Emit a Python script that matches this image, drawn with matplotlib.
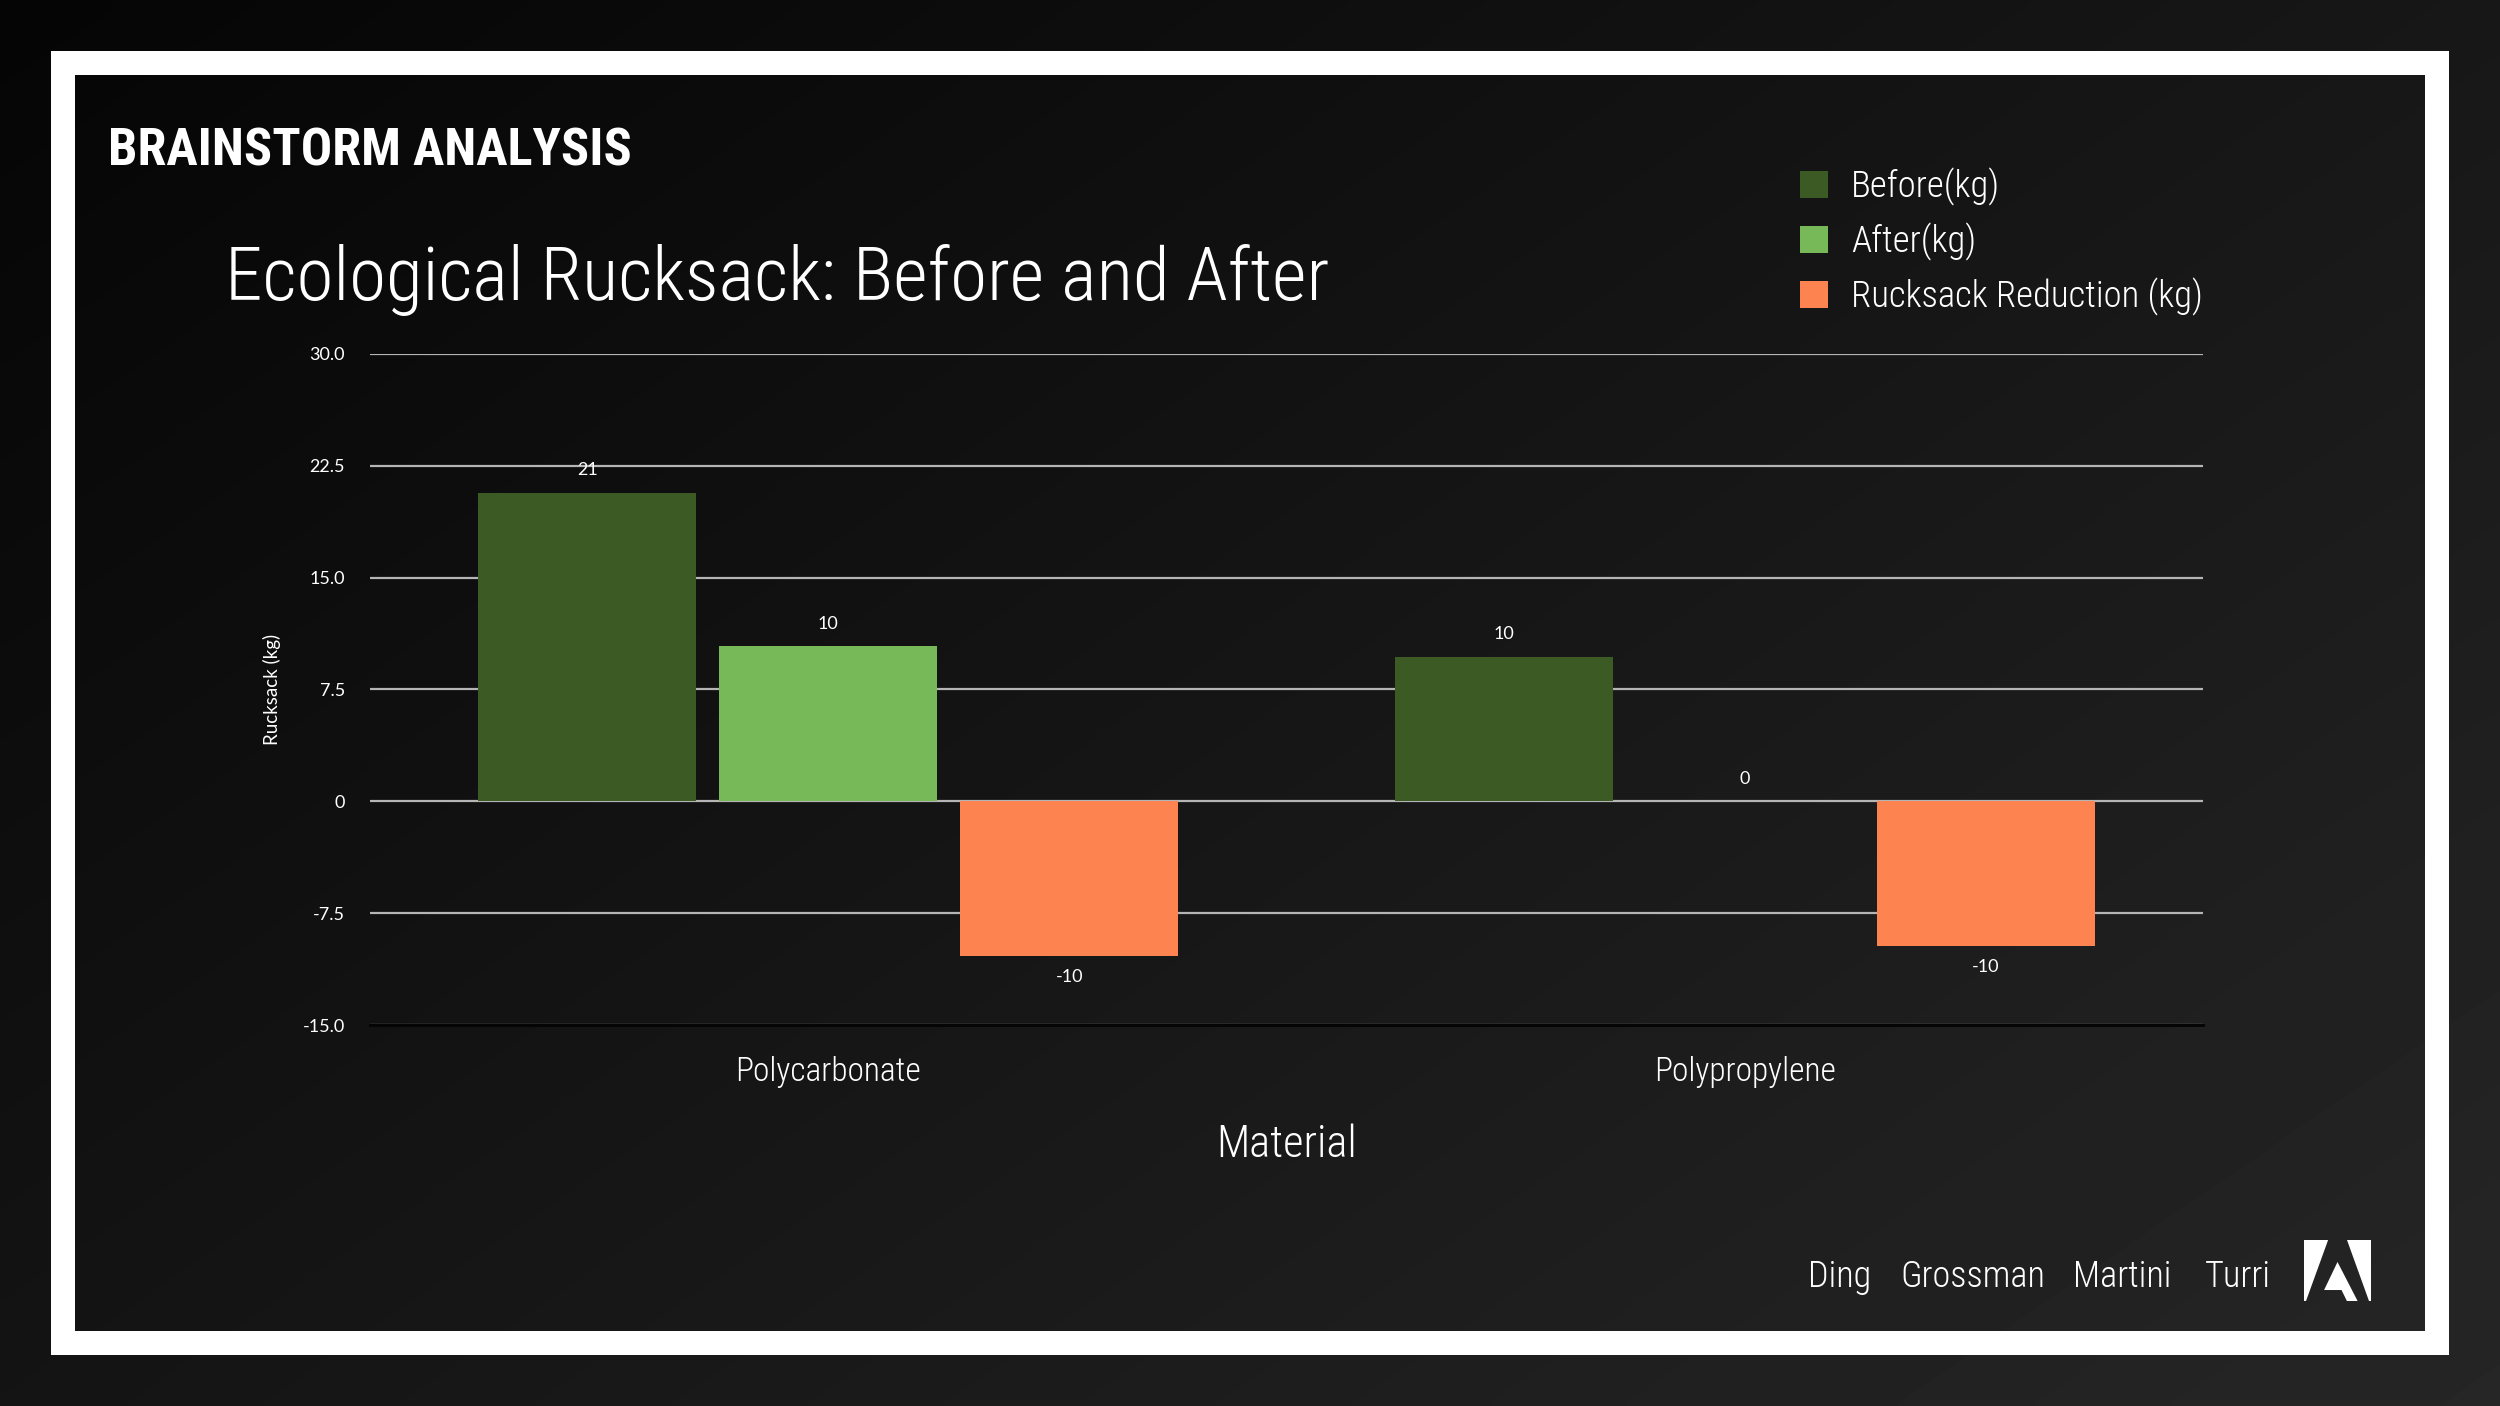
import numpy as np
import matplotlib
matplotlib.use('Agg')
import matplotlib.pyplot as plt
from matplotlib import font_manager as fm
from matplotlib.patches import Rectangle, Polygon

# ---------------- data ----------------
categories = ['Polycarbonate', 'Polypropylene']
series_names = ['Before(kg)', 'After(kg)', 'Rucksack Reduction (kg)']
before = [20.7, 9.7]
after = [10.4, 0.0]
reduction = [-10.4, -9.7]
series_colors = ['#3b5a24', '#77b858', '#fd8451']
ytick_values = [-15, -7.5, 0, 7.5, 15, 22.5, 30]
ytick_labels = ['-15.0', '-7.5', '0', '7.5', '15.0', '22.5', '30.0']
authors = ['Ding', 'Grossman', 'Martini', 'Turri']
heading = 'BRAINSTORM ANALYSIS'
chart_title = 'Ecological Rucksack: Before and After'
x_label = 'Material'
y_label = 'Rucksack (kg)'

# ---------------- fonts ----------------
avail = {f.name for f in fm.fontManager.ttflist}


def pick(*cands):
    for c in cands:
        if c in avail:
            return c
    return 'DejaVu Sans'


bold_family = pick('Liberation Sans Narrow', 'Roboto Condensed', 'Open Sans Condensed', 'DejaVu Sans')
light_family = pick('Roboto Condensed', 'Lato', 'Roboto', 'Open Sans')
small_family = pick('Lato', 'Open Sans', 'Noto Sans')
LIGHT = 300

W, H = 2500, 1406
DPI = 100
fig = plt.figure(figsize=(W / DPI, H / DPI), dpi=DPI)


def fx(px):
    return px / W


def fy(py):
    return 1 - py / H


# ---------------- background ----------------
bg = fig.add_axes([0, 0, 1, 1], zorder=-10)
yy, xx = np.mgrid[0:1:300j, 0:1:500j]
grad = 0.02 + 0.13 * (0.55 * xx + 0.45 * yy)
bg.imshow(grad, cmap='gray', vmin=0, vmax=1, extent=(0, 1, 0, 1),
          aspect='auto', origin='upper', interpolation='bilinear')
bg.set_xlim(0, 1)
bg.set_ylim(0, 1)
bg.axis('off')

# white frame
fig.patches.append(Rectangle((fx(63), fy(1343)), fx(2437) - fx(63), fy(63) - fy(1343),
                             transform=fig.transFigure, fill=False,
                             edgecolor='white', lw=24 * 72 / DPI, zorder=1))

# ---------------- main axes ----------------
ax = fig.add_axes([fx(370), fy(1025), fx(2203) - fx(370), fy(354) - fy(1025)])
ax.patch.set_alpha(0)

x = np.arange(len(categories))
bw = 0.238
off = 0.263
for i, (vals, name, c) in enumerate(zip([before, after, reduction], series_names, series_colors)):
    bars = ax.bar(x + (i - 1) * off, vals, bw, color=c, label=name, zorder=3)
    for b, v in zip(bars, vals):
        ax.annotate(f'{v:.0f}', xy=(b.get_x() + b.get_width() / 2, v),
                    xytext=(0, 16 if v >= 0 else -15), textcoords='offset points',
                    ha='center', va='center', color='white', fontsize=13,
                    family=small_family, zorder=4)

ax.set_xlim(-0.5, 1.5)
ax.set_ylim(-15, 30)
ax.set_yticks(ytick_values, ytick_labels)
ax.set_xticks(x, categories)
ax.grid(axis='y', color='#b5b5b5', lw=2.2 * 72 / DPI)
ax.set_axisbelow(True)
for s in ['top', 'left', 'right']:
    ax.spines[s].set_visible(False)
ax.spines['bottom'].set_color('#050505')
ax.spines['bottom'].set_linewidth(3 * 72 / DPI)
ax.spines['bottom'].set_zorder(3.5)
ax.tick_params(axis='y', length=0, pad=18, colors='white', labelsize=13)
ax.tick_params(axis='x', length=0, pad=22, colors='white', labelsize=24)
for lab in ax.get_yticklabels():
    lab.set_family(small_family)
for lab in ax.get_xticklabels():
    lab.set_family(light_family)
    lab.set_fontweight(LIGHT)

ax.set_xlabel(x_label, color='white', fontsize=32, family=light_family,
              fontweight=LIGHT, labelpad=26)
ax.set_ylabel(y_label, color='white', fontsize=13.5, family=small_family, labelpad=16)

leg = ax.legend(loc='upper left', bbox_to_anchor=(fx(1800), fy(168)),
                bbox_transform=fig.transFigure, frameon=False, borderpad=0,
                borderaxespad=0, handlelength=0.75, handleheight=0.75,
                handletextpad=0.63, labelspacing=0.45,
                prop={'family': light_family, 'size': 26.5, 'weight': LIGHT},
                labelcolor='white')

# ---------------- texts ----------------
renderer = fig.canvas.get_renderer()


def fit(t, target_w, max_size=None):
    w = t.get_window_extent(renderer).width
    s = t.get_fontsize() * target_w / w
    if max_size is not None:
        s = min(s, max_size)
    t.set_fontsize(s)


t_head = fig.text(fx(108), fy(166), heading, color='white', fontsize=50,
                  family=bold_family, fontweight='bold', fontstretch='condensed',
                  ha='left', va='baseline')
fit(t_head, 525, 52)

t_title = fig.text(fx(225), fy(300), chart_title, color='white', fontsize=50,
                   family=light_family, fontweight=LIGHT, ha='left', va='baseline')
fit(t_title, 1106, 55)

author_x = [1808, 1900, 2073, 2205]
author_w = [60, 147, 107, 65]
texts = []
for name, ax_x, w in zip(authors, author_x, author_w):
    t = fig.text(fx(ax_x), fy(1287), name, color='white', fontsize=28,
                 family=light_family, fontweight=LIGHT, ha='left', va='baseline')
    fit(t, w, 31)
    texts.append(t)
common = float(np.median([t.get_fontsize() for t in texts]))
for t in texts:
    t.set_fontsize(common)

# ---------------- logo ----------------
lx0, lx1, ly0, ly1 = 2304, 2371, 1240, 1301


def L(u, v):
    return (fx(lx0 + u * (lx1 - lx0)), fy(ly1 - v * (ly1 - ly0)))


logo_parts = [
    [(0, 1), (0.36, 1), (0.03, 0), (0, 0)],
    [(0.64, 1), (1, 1), (1, 0), (0.97, 0)],
    [(0.5, 0.64), (0.30, 0.18), (0.56, 0.18), (0.64, 0.0), (0.80, 0.0)],
]
for part in logo_parts:
    fig.patches.append(Polygon([L(u, v) for u, v in part], closed=True,
                               transform=fig.transFigure, facecolor='white',
                               edgecolor='none', zorder=2))

fig.savefig('out.png', dpi=DPI)
